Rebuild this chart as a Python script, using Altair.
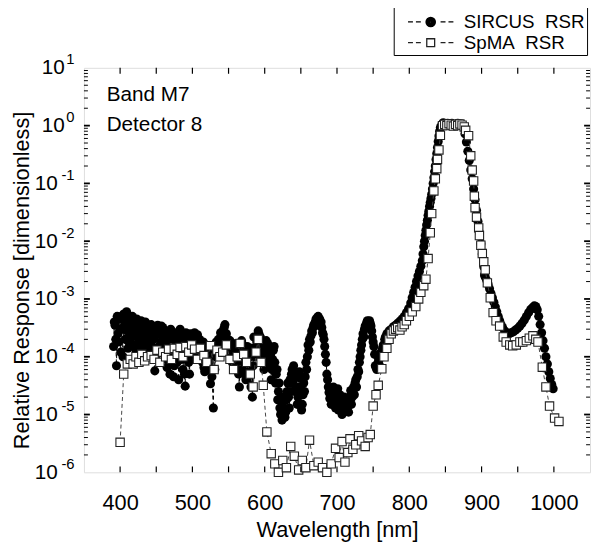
import altair as alt
import pandas as pd

# ---------------- data ----------------
sircus_wl = [391, 393, 395, 397, 399, 401, 403, 405, 407, 409, 411, 413, 415, 417, 419, 421, 424, 427, 430, 433,
             436, 439, 442, 445, 448, 451, 454, 457, 460, 463, 466, 469, 472, 475, 478, 481, 484, 487, 490, 493,
             496, 499, 502, 505, 508, 511, 514, 517, 520, 523, 525, 529, 532, 535, 538, 541, 544, 547, 550, 553,
             556, 559, 562, 565, 568, 571, 574, 577, 580, 583, 586, 589, 592, 595, 598, 601, 604, 607, 610, 613,
             616, 619, 622, 625, 628, 631, 634, 637, 640, 643, 646, 649, 652, 655, 658, 661, 664, 667, 670, 673,
             676, 679, 682, 684, 686, 688, 690, 693, 696, 699, 702, 705, 708, 711, 714, 717, 720, 722, 725, 728,
             731, 733, 735, 738, 741, 744, 747, 749, 751, 753, 755, 757, 760, 763, 766, 769, 772, 775, 778, 781,
             784, 787, 790, 793, 796, 799, 802, 804, 806, 808, 810, 812, 814, 816, 818, 819, 820, 821, 822, 823,
             824, 825, 826, 827, 828, 829, 830, 831, 832, 833, 834, 835, 836, 837, 838, 839, 840, 841, 842, 843,
             845, 847, 849, 851, 853, 855, 857, 859, 861, 863, 865, 867, 869, 871, 873, 875, 877, 879, 881, 883,
             885, 887, 889, 891, 893, 895, 897, 899, 901, 903, 904, 905, 907, 909, 911, 913, 915, 917, 919, 921,
             923, 925, 927, 929, 932, 935, 938, 941, 944, 947, 950, 953, 956, 959, 962, 965, 968, 971, 973, 975,
             977, 979, 981, 983, 985, 987, 989, 991, 993, 995, 997, 999]
sircus_val = [1.5e-4, 3.5e-4, 7e-5, 2.5e-4, 4.5e-4, 1.2e-4, 3.0e-4, 5.5e-4, 2.0e-4, 6.0e-4,
              1.4e-4, 4.5e-4, 3.0e-4, 5.0e-4, 1.6e-4, 3.5e-4, 2.2e-4, 4.0e-4, 1.5e-4, 3.0e-4,
              2.0e-4, 3.5e-4, 1.2e-4, 2.6e-4, 5.7e-5, 3.0e-4, 1.5e-4, 3.4e-4, 2.0e-4, 9e-5,
              2.4e-4, 5e-5, 2.6e-4, 7e-5, 2.2e-4, 4e-5, 1.8e-4, 6e-5, 3.1e-5, 2.2e-4,
              5e-5, 2.4e-4, 1.4e-4, 2.0e-4, 1.1e-4, 1.6e-4, 8e-5, 5.5e-5, 1.2e-4, 8e-5,
              3.4e-5, 1.3e-5, 1.0e-4, 1.4e-4, 1.8e-4, 2.2e-4, 3.2e-4, 2.5e-4, 1.2e-4, 1.6e-4,
              1.0e-4, 6e-5, 1.3e-4, 3e-5, 1.9e-4, 8e-5, 4e-5, 1.2e-4, 6e-5, 2.0e-5,
              1.0e-4, 1.8e-4, 2.5e-4, 1.3e-4, 1.0e-4, 7e-5, 1.7e-4, 1.1e-4, 6e-5, 1.5e-4,
              5e-5, 2.5e-5, 1.0e-5, 1.6e-5, 9e-6, 2.5e-5, 1.3e-5, 5e-5, 7e-5, 3e-5,
              2.0e-5, 4.3e-5, 1.5e-5, 2.5e-5, 6e-5, 1.3e-4, 2.3e-4, 3.2e-4, 4.0e-4, 4.8e-4,
              4.5e-4, 3.2e-4, 2.0e-4, 1.1e-4, 5e-5, 3e-5, 1.9e-5, 2.6e-5, 1.5e-5, 2.3e-5,
              1.2e-5, 1.8e-5, 1.1e-5, 1.6e-5, 1.3e-5, 2.0e-5, 1.5e-5, 2.5e-5, 3.5e-5, 4.5e-5,
              8e-5, 1.3e-4, 2.0e-4, 3.0e-4, 3.9e-4, 4.0e-4, 3.4e-4, 2.2e-4, 1.5e-4, 7e-5,
              6e-5, 8e-5, 1.0e-4, 1.4e-4, 2.0e-4, 2.5e-4, 2.8e-4, 3.0e-4, 3.3e-4, 3.5e-4,
              3.8e-4, 4.1e-4, 4.5e-4, 5.0e-4, 5.8e-4, 6.8e-4, 8.5e-4, 1.05e-3, 1.3e-3, 1.6e-3,
              2.0e-3, 2.5e-3, 3.0e-3, 3.7e-3, 4.6e-3, 6.0e-3, 8.0e-3, 1.0e-2, 1.25e-2, 1.55e-2,
              1.9e-2, 2.3e-2, 2.8e-2, 3.3e-2, 4.0e-2, 4.7e-2, 5.5e-2, 6.5e-2, 8.0e-2, 1.0e-1,
              1.25e-1, 1.6e-1, 2.0e-1, 2.6e-1, 3.3e-1, 4.2e-1, 5.3e-1, 6.6e-1, 8.0e-1, 9.3e-1,
              1.05, 1.12, 1.08, 1.04, 1.10, 1.02, 1.06, 1.10, 1.03, 0.99,
              1.06, 1.10, 1.04, 1.08, 1.02, 0.95, 0.72, 0.52, 0.36, 0.25,
              0.17, 0.12, 0.08, 0.052, 0.034, 0.022, 0.014, 9e-3, 6e-3, 3.6e-3,
              2.6e-3, 2.4e-3, 2.1e-3, 1.8e-3, 1.5e-3, 1.25e-3, 1.05e-3, 8.8e-4, 7.3e-4, 6e-4,
              5e-4, 4.2e-4, 3.6e-4, 3.2e-4, 2.8e-4, 2.6e-4, 2.5e-4, 2.6e-4, 2.7e-4, 2.9e-4,
              3.1e-4, 3.4e-4, 3.8e-4, 4.3e-4, 5.0e-4, 5.8e-4, 6.6e-4, 7.2e-4, 7.6e-4, 7.4e-4,
              6.5e-4, 5.0e-4, 3.6e-4, 2.6e-4, 1.9e-4, 1.4e-4, 1.0e-4, 7.5e-5, 5.5e-5, 4.2e-5,
              3.3e-5, 2.8e-5]

# further SIRCUS samples read from the dense, noisy part of the curve
sircus_extra_wl = [392, 394, 396, 398, 400, 402, 404, 406, 408, 410, 412, 414, 416, 418, 420, 422, 423, 425, 426, 428,
                   429, 431, 432, 434, 435, 437, 438, 440, 441, 443, 444, 446, 447, 449, 450, 452, 453, 455, 456, 458,
                   459, 461, 462, 464, 465, 467, 468, 470, 471, 473, 474, 476, 477, 479, 480, 482, 483, 485, 486, 488,
                   489, 491, 492, 494, 495, 497, 498, 500, 501, 503, 504, 506, 507, 509, 510, 512, 513, 515, 516, 518,
                   519, 521, 522, 524, 527, 530, 531, 533, 534, 536, 537, 539, 540, 542, 543, 545, 546, 548, 549, 551,
                   552, 554, 555, 557, 558, 560, 561, 563, 564, 566, 567, 569, 570, 572, 573, 575, 576, 578, 579, 581,
                   582, 584, 585, 587, 588, 590, 591, 593, 594, 596, 597, 599, 600, 602, 603, 605, 606, 608, 609, 611,
                   612, 614, 615, 617, 618, 620, 621, 623, 624, 626, 627, 629, 630, 632, 633, 635, 636, 638, 639, 641,
                   642, 644, 645, 647, 648, 650, 651, 653, 654, 656, 657, 659, 660, 662, 663, 665, 666, 668, 669, 671,
                   672, 674, 675, 677, 678, 680, 681, 683, 685, 687, 689, 691, 692, 694, 695, 697, 698, 700, 701, 703,
                   704, 706, 707, 709, 710, 712, 713, 715, 716, 718, 719, 721, 723, 724, 726, 727, 729, 730, 732, 734,
                   736, 737, 739, 740, 742, 743, 745, 746, 748, 750, 752, 754, 756, 758, 759, 761, 762, 764, 765, 767,
                   768]
sircus_extra_val = [4.0e-4, 2.0e-4, 5.0e-4, 1.8e-4, 3.0e-4, 5.0e-4, 1.0e-4, 3.5e-4, 4.5e-4, 2.8e-4,
                    1.8e-4, 3.8e-4, 2.2e-4, 4.2e-4, 2.5e-4, 1.3e-4, 4.5e-4, 3.0e-4, 1.8e-4, 2.6e-4,
                    4.2e-4, 2.2e-4, 3.6e-4, 1.7e-4, 4.0e-4, 2.6e-4, 1.4e-4, 3.0e-4, 2.0e-4, 3.6e-4,
                    1.5e-4, 2.0e-4, 3.2e-4, 1.0e-4, 2.4e-4, 3.5e-4, 1.2e-4, 2.8e-4, 1.8e-4, 2.6e-4,
                    3.2e-4, 1.4e-4, 2.8e-4, 1.8e-4, 6.5e-5, 2.0e-4, 1.0e-4, 3.0e-4, 1.3e-4, 2.0e-4,
                    4.5e-5, 2.6e-4, 1.5e-4, 8e-5, 2.4e-4, 1.2e-4, 3.0e-4, 9e-5, 2.2e-4, 1.5e-4,
                    5e-5, 2.6e-4, 1.1e-4, 1.7e-4, 8e-5, 2.5e-4, 1.6e-4, 2.2e-4, 1.0e-4, 2.6e-4,
                    1.5e-4, 1.8e-4, 2.4e-4, 1.3e-4, 2.0e-4, 1.4e-4, 1.0e-4, 1.8e-4, 6.5e-5, 1.3e-4,
                    9e-5, 1.5e-4, 6e-5, 1.1e-4, 4.5e-5, 1.5e-4, 6e-5, 1.8e-4, 1.2e-4, 2.0e-4,
                    1.5e-4, 2.6e-4, 1.9e-4, 2.8e-4, 2.0e-4, 3.6e-4, 1.8e-4, 1.4e-4, 2.0e-4, 1.1e-4,
                    1.9e-4, 1.2e-4, 8e-5, 1.5e-4, 1.1e-4, 1.7e-4, 8e-5, 1.1e-4, 5e-5, 1.5e-4,
                    1.2e-4, 6e-5, 1.6e-4, 1.0e-4, 5e-5, 9e-5, 1.5e-4, 4e-5, 1.0e-4, 3e-5,
                    1.4e-4, 7e-5, 2.2e-4, 1.3e-4, 2.2e-4, 1.6e-4, 2.8e-4, 1.8e-4, 2.2e-4, 1.0e-4,
                    1.6e-4, 6e-5, 1.3e-4, 1.9e-4, 1.0e-4, 1.4e-4, 8e-5, 1.2e-4, 4e-5, 9e-5,
                    1.3e-4, 8e-5, 3.5e-5, 6e-5, 1.8e-5, 3.5e-5, 1.3e-5, 2.0e-5, 8e-6, 1.2e-5,
                    2.0e-5, 1.1e-5, 1.8e-5, 3.5e-5, 2.0e-5, 4.0e-5, 2.5e-5, 6e-5, 3.5e-5, 5e-5,
                    2.5e-5, 4.5e-5, 1.5e-5, 3.0e-5, 5.5e-5, 2.8e-5, 1.2e-5, 2.2e-5, 3.5e-5, 4.5e-5,
                    8e-5, 1.0e-4, 1.6e-4, 2.0e-4, 1.8e-4, 2.8e-4, 2.6e-4, 3.6e-4, 3.4e-4, 4.5e-4,
                    4.2e-4, 5.0e-4, 4.4e-4, 3.8e-4, 4.0e-4, 2.6e-4, 2.4e-4, 1.5e-4, 8e-5, 4e-5,
                    2.4e-5, 2.2e-5, 1.5e-5, 2.0e-5, 3.0e-5, 1.8e-5, 1.3e-5, 1.9e-5, 2.8e-5, 1.5e-5,
                    2.2e-5, 1.3e-5, 1.0e-5, 1.5e-5, 2.0e-5, 1.2e-5, 1.9e-5, 1.6e-5, 1.1e-5, 1.7e-5,
                    2.6e-5, 2.0e-5, 3.0e-5, 2.2e-5, 4.0e-5, 3.0e-5, 6e-5, 5.5e-5, 1.0e-4, 1.6e-4,
                    2.5e-4, 2.2e-4, 3.4e-4, 3.2e-4, 4.2e-4, 3.6e-4, 4.2e-4, 3.8e-4, 2.8e-4, 1.8e-4,
                    1.1e-4, 6.5e-5, 7e-5, 9e-5, 7e-5, 1.2e-4, 1.0e-4, 1.6e-4, 1.5e-4, 2.2e-4,
                    2.0e-4]

spma_wl = [400, 405, 410, 414, 418, 422, 426, 430, 434, 438, 443, 447, 451, 455, 459, 463, 467, 471, 475, 479,
           483, 487, 491, 495, 499, 503, 507, 511, 516, 520, 525, 530, 534, 538, 542, 547, 552, 557, 562, 566,
           571, 575, 580, 584, 588, 591, 595, 598, 603, 609, 614, 619, 625, 630, 636, 641, 647, 652, 657, 662,
           668, 674, 680, 686, 692, 698, 703, 707, 711, 715, 718, 722, 726, 730, 734, 739, 743, 746, 750, 754,
           757, 762, 765, 769, 772, 775, 778, 781, 784, 787, 790, 793, 796, 800, 804, 809, 813, 816, 820, 823,
           826, 829, 831, 834, 836, 838, 839, 841, 843, 846, 849, 852, 855, 858, 861, 864, 867, 870, 873, 876,
           878, 882, 885, 887, 889, 890, 891, 893, 896, 897, 899, 901, 903, 905, 908, 912, 916, 920, 925, 930,
           934, 939, 943, 948, 953, 957, 962, 966, 971, 975, 978, 984, 989, 994, 1001, 1007]
spma_val = [3.3e-6, 5.0e-5, 7.5e-5, 9e-5, 7.5e-5, 1.0e-4, 8e-5, 1.1e-4, 8.5e-5, 1.0e-4,
            1.05e-4, 9e-5, 1.3e-4, 8e-5, 1.2e-4, 1.0e-4, 1.35e-4, 9e-5, 1.4e-4, 1.1e-4,
            1.45e-4, 1.0e-4, 1.5e-4, 1.2e-4, 1.6e-4, 1.35e-4, 9e-5, 1.4e-4, 1.05e-4, 8e-5,
            1.55e-4, 6e-5, 1.3e-4, 1.0e-4, 1.2e-4, 1.6e-4, 9e-5, 6e-5, 1.0e-4, 1.7e-4,
            1.1e-4, 8e-5, 5e-5, 3e-5, 1.2e-4, 2.0e-4, 8e-5, 3.2e-5, 5e-6, 2.1e-6,
            1.4e-6, 1.0e-6, 1.6e-6, 1.2e-6, 2.8e-6, 1.9e-6, 1.1e-6, 1.6e-6, 1.2e-6, 3.6e-6,
            1.3e-6, 1.5e-6, 1.2e-6, 1.0e-6, 1.4e-6, 2.6e-6, 1.8e-6, 3.4e-6, 1.5e-6, 2.2e-6,
            3.8e-6, 2.5e-6, 3.0e-6, 4.3e-6, 3.5e-6, 2.8e-6, 4.0e-6, 4.5e-6, 1.4e-5, 2.2e-5,
            3.2e-5, 6.2e-5, 1.0e-4, 1.4e-4, 2.0e-4, 2.5e-4, 2.8e-4, 3.0e-4, 3.2e-4, 2.9e-4,
            3.3e-4, 3.6e-4, 4.2e-4, 5.0e-4, 6.0e-4, 7.4e-4, 1.0e-3, 1.3e-3, 1.7e-3, 2.2e-3,
            5e-3, 1.4e-2, 3.0e-2, 7.4e-2, 1.2e-1, 1.8e-1, 2.6e-1, 3.8e-1, 6.8e-1, 1.0,
            1.05, 1.0, 1.08, 1.02, 0.98, 1.05, 1.0, 1.07, 1.02, 0.95,
            0.83, 0.67, 0.30, 0.17, 0.11, 0.06, 0.038, 0.026, 0.017, 0.0125,
            8.5e-3, 6.1e-3, 4.4e-3, 3.2e-3, 1.9e-3, 1.05e-3, 5.8e-4, 4.2e-4, 3.4e-4, 2.2e-4,
            1.8e-4, 1.6e-4, 1.55e-4, 1.6e-4, 1.8e-4, 1.8e-4, 1.9e-4, 2.1e-4, 2.3e-4, 2.0e-4,
            1.8e-4, 6.6e-5, 3.0e-5, 1.4e-5, 8.7e-6, 7.6e-6]

series_names = ["SIRCUS\u00a0\u00a0RSR", "SpMA\u00a0\u00a0RSR"]
x_label_values = [400, 500, 600, 700, 800, 900, 1000]
x_tick_values = [400, 450, 500, 550, 600, 650, 700, 750, 800, 850, 900, 950, 1000]
y_major_values = [1e-6, 1e-5, 1e-4, 1e-3, 1e-2, 1e-1, 1e0, 1e1]
y_minor_values = [m * 10.0 ** e for e in range(-6, 1) for m in range(2, 10)]
annotation_lines = ["Band M7", "Detector 8"]

# ---------------- tables ----------------
sircus = pd.concat([
    pd.DataFrame({"wl": sircus_wl, "val": sircus_val}),
    pd.DataFrame({"wl": sircus_extra_wl, "val": sircus_extra_val}),
], ignore_index=True).sort_values("wl", kind="stable").reset_index(drop=True)
sircus["series"] = series_names[0]
spma = pd.DataFrame({"wl": spma_wl, "val": spma_val, "series": series_names[1]})
both = pd.concat([sircus, spma], ignore_index=True)

FONT = "Liberation Sans"
W, H = 513, 410
xs = alt.Scale(domain=[350, 1050], nice=False, zero=False)
ys = alt.Scale(type="log", domain=[1e-6, 10], nice=False)


def X(axis):
    return alt.X("wl:Q", scale=xs, axis=axis)


def Y(axis):
    return alt.Y("val:Q", scale=ys, axis=axis)


# main labelled axes
ax_x_main = alt.Axis(orient="bottom", values=x_label_values, format="d", ticks=False, tickSize=0,
                     domain=False, grid=False, labelFont=FONT, labelFontSize=22, labelColor="black",
                     labelPadding=21, title="Wavelength [nm]", titleFont=FONT, titleFontSize=22,
                     titleFontWeight="normal", titleColor="black", titlePadding=6)
exp_expr = "round(log(datum.value)/LN10)"
ax_y_base = alt.Axis(orient="left", values=y_major_values, labelExpr="'10'", ticks=False, tickSize=0,
                     domain=False, grid=False, labelFont=FONT, labelFontSize=21, labelColor="black",
                     labelPadding={"condition": {"test": "datum.value < 1", "value": 27}, "value": 20},
                     title="Relative Response [dimensionless]", titleFont=FONT, titleFontSize=22,
                     titleFontWeight="normal", titleColor="black", titlePadding=1, titleY=215)
ax_y_exp = alt.Axis(orient="left", values=y_major_values,
                    labelExpr=f"({exp_expr} < 0 ? '-' : '') + abs({exp_expr})",
                    ticks=False, tickSize=0, domain=False, grid=False, labelFont=FONT,
                    labelFontSize=15, labelColor="black", labelPadding=10, labelOffset=-9,
                    labelAlign="right", title=None)

# legend symbols: dashed line with marker, as SVG paths (filled circle drawn as concentric rings)
dash = "M-4.6,0H-3.6M-3,0H-2M2,0H3M3.6,0H4.6"
rings = "".join(f"M{r},0A{r},{r},0,1,1,-{r},0A{r},{r},0,1,1,{r},0" for r in [0.95, 0.73, 0.51, 0.29, 0.08])
circ_path = dash + rings
sq_path = dash + "M-0.8,-0.8H0.8V0.8H-0.8Z"

legend = alt.Legend(orient="none", legendX=314, legendY=-72, title="\u00a0", titleFontSize=10,
                    titlePadding=4, labelFont=FONT, labelFontSize=19, labelColor="black",
                    symbolSize=100, symbolOffset=26, labelOffset=24, padding=2, rowPadding=1,
                    strokeColor="black", fillColor="white", symbolOpacity=1,
                    symbolFillColor="white", symbolStrokeWidth=1.3)

sircus_line = alt.Chart(sircus).mark_line(color="black", strokeDash=[4, 3], strokeWidth=1).encode(
    x=X(ax_x_main), y=Y(ax_y_base))
sircus_pts = alt.Chart(sircus).mark_point(shape="circle", filled=True, color="black", size=85,
                                         opacity=1).encode(x=X(None), y=Y(ax_y_exp))
spma_line = alt.Chart(spma).mark_line(color="#444444", strokeDash=[4, 3], strokeWidth=1).encode(
    x=X(None), y=Y(None))
spma_pts = alt.Chart(spma).mark_point(shape="square", fill="white", stroke="#222222", strokeWidth=1.1,
                                      size=72, opacity=1, filled=True).encode(x=X(None), y=Y(None))
legend_layer = alt.Chart(both).mark_point(filled=False, opacity=0, strokeWidth=1.3).encode(
    x=X(None), y=Y(None),
    color=alt.Color("series:N", scale=alt.Scale(domain=series_names, range=["black", "#222222"]), legend=legend),
    shape=alt.Shape("series:N", scale=alt.Scale(domain=series_names, range=[circ_path, sq_path]), legend=legend))

# inside tick marks on all four sides
xt = pd.DataFrame({"v": x_tick_values})
ymaj = pd.DataFrame({"v": y_major_values[1:-1]})
ymin = pd.DataFrame({"v": y_minor_values})


def xtick(y0, y1):
    return alt.Chart(xt).mark_rule(color="black", strokeWidth=1.2).encode(
        x=alt.X("v:Q", scale=xs, axis=None), y=alt.value(y0), y2=alt.value(y1))


def ytick(df, x0, x1, w):
    return alt.Chart(df).mark_rule(color="black", strokeWidth=w).encode(
        y=alt.Y("v:Q", scale=ys, axis=None), x=alt.value(x0), x2=alt.value(x1))


ticks = [xtick(H, H - 6), xtick(0, 6),
         ytick(ymaj, 0, 6, 1.8), ytick(ymaj, W, W - 6, 1.8),
         ytick(ymin, 0, 4, 1), ytick(ymin, W, W - 4, 1)]

note1 = alt.Chart(pd.DataFrame({"t": [annotation_lines[0]]})).mark_text(
    align="left", baseline="middle", font=FONT, fontSize=21, color="black").encode(
    x=alt.value(23), y=alt.value(28), text="t:N")
note2 = alt.Chart(pd.DataFrame({"t": [annotation_lines[1]]})).mark_text(
    align="left", baseline="middle", font=FONT, fontSize=21, color="black").encode(
    x=alt.value(23), y=alt.value(58), text="t:N")

chart = alt.layer(sircus_line, sircus_pts, spma_line, spma_pts, legend_layer, *ticks, note1, note2).resolve_axis(
    x="independent", y="independent").properties(
    width=W, height=H,
    autosize=alt.AutoSizeParams(type="none"),
    padding={"left": 77, "top": 57, "right": 2, "bottom": 68},
).configure_view(stroke="black", strokeWidth=1.2).configure(background="white")

chart.save("out.html", embed_options={"renderer": "svg", "actions": False})
